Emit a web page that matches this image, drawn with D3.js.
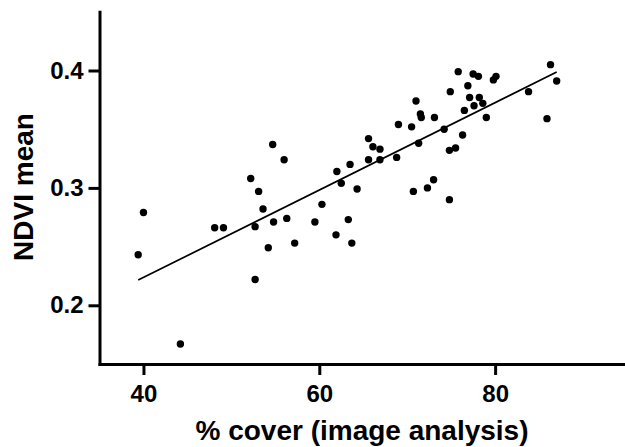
<!DOCTYPE html>
<html>
<head>
<meta charset="utf-8">
<script src="https://cdn.jsdelivr.net/npm/d3@7"></script>
<style>
  body { margin: 0; background: #fff; }
  svg { display: block; }
  text { font-family: "Liberation Sans", Arial, sans-serif; font-weight: bold; fill: #000; }
</style>
</head>
<body>
<svg id="chart" width="625" height="447"></svg>
<script>
// % cover from image analysis
var coverPct = [39.4, 40.0, 44.2, 48.1, 49.1, 52.2, 52.7, 52.7, 53.1, 53.6,
  54.2, 54.7, 54.8, 56.0, 56.3, 57.2, 59.5, 60.3, 61.9, 62.0,
  62.5, 63.3, 63.5, 63.7, 64.3, 65.6, 65.6, 66.1, 66.9, 66.9,
  68.8, 69.0, 70.5, 70.7, 71.0, 71.3, 71.5, 71.6, 72.3, 73.0,
  73.1, 74.2, 74.8, 74.9, 74.8, 75.5, 75.8, 76.5, 76.3, 76.9,
  77.1, 77.5, 77.6, 78.1, 78.2, 78.6, 79.0, 79.8, 80.1, 83.8,
  85.9, 86.3, 87.0];

// mean NDVI for the same plots
var ndviMean = [0.243, 0.279, 0.167, 0.266, 0.266, 0.308, 0.267, 0.222, 0.297, 0.282,
  0.249, 0.337, 0.271, 0.324, 0.274, 0.253, 0.271, 0.286, 0.260, 0.314,
  0.304, 0.273, 0.320, 0.253, 0.299, 0.342, 0.324, 0.335, 0.333, 0.324,
  0.326, 0.354, 0.352, 0.297, 0.374, 0.338, 0.363, 0.360, 0.300, 0.307,
  0.360, 0.350, 0.290, 0.382, 0.332, 0.334, 0.399, 0.366, 0.345, 0.387,
  0.377, 0.397, 0.370, 0.395, 0.377, 0.372, 0.360, 0.392, 0.395, 0.382,
  0.359, 0.405, 0.391];

var xTicks = [40, 60, 80];
var yTicks = [0.2, 0.3, 0.4];

var svg = d3.select("#chart");

var x = d3.scaleLinear().domain([35, 95]).range([99.5, 627]);
var y = d3.scaleLinear().domain([0.15, 0.45]).range([364, 11.8]);

var pts = coverPct.map(function(c, i) { return [c, ndviMean[i]]; });

// least squares line over the data range
var mx = d3.mean(coverPct), my = d3.mean(ndviMean);
var sxy = d3.sum(pts, function(d) { return (d[0] - mx) * (d[1] - my); });
var sxx = d3.sum(pts, function(d) { return (d[0] - mx) * (d[0] - mx); });
var slope = sxy / sxx, icpt = my - slope * mx;
var xr = d3.extent(coverPct);

svg.append("line")
  .attr("x1", x(xr[0])).attr("y1", y(icpt + slope * xr[0]))
  .attr("x2", x(xr[1])).attr("y2", y(icpt + slope * xr[1]))
  .attr("stroke", "#000").attr("stroke-width", 1.7);

svg.append("g").selectAll("circle")
  .data(pts)
  .enter().append("circle")
    .attr("cx", function(d) { return x(d[0]); })
    .attr("cy", function(d) { return y(d[1]); })
    .attr("r", 3.7)
    .attr("fill", "#000");

var gx = svg.append("g")
  .attr("transform", "translate(0,364)")
  .call(d3.axisBottom(x).tickValues(xTicks).tickSize(11).tickSizeOuter(0).tickPadding(10).tickFormat(d3.format("d")));

var gy = svg.append("g")
  .attr("transform", "translate(99.5,0)")
  .call(d3.axisLeft(y).tickValues(yTicks).tickSize(11).tickSizeOuter(0).tickPadding(5).tickFormat(d3.format(".1f")));

[gx, gy].forEach(function(g) {
  g.select(".domain").attr("stroke-width", 3).attr("stroke-linecap", "square");
  g.selectAll(".tick line").attr("stroke-width", 3);
  g.selectAll(".tick text").style("font-size", "24px").style("font-family", "'Liberation Sans', Arial, sans-serif").style("font-weight", "bold");
});

svg.append("text")
  .attr("x", 362).attr("y", 440)
  .attr("text-anchor", "middle")
  .style("font-size", "28px")
  .text("% cover (image analysis)");

svg.append("text")
  .attr("transform", "translate(33,187) rotate(-90)")
  .attr("text-anchor", "middle")
  .style("font-size", "28px")
  .text("NDVI mean");
</script>
</body>
</html>
